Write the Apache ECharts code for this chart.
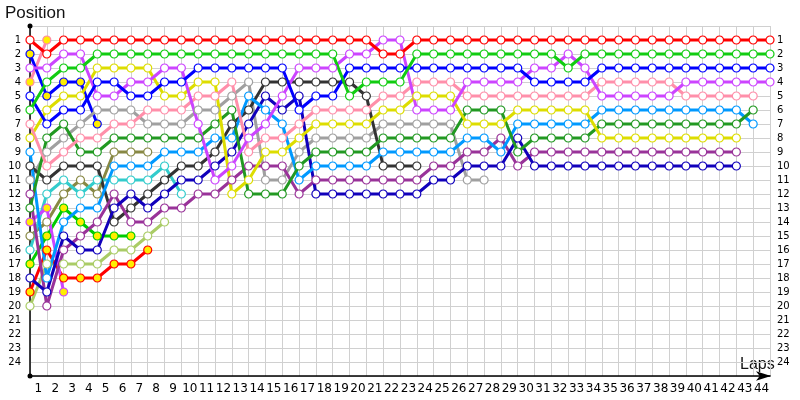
<!DOCTYPE html>
<html><head><meta charset="utf-8">
<script src="https://cdn.jsdelivr.net/npm/echarts@6/dist/echarts.min.js"></script>
<style>html,body{margin:0;padding:0;background:#fff}#c{width:800px;height:400px}</style>
</head><body><div id="c"></div>
<script>
// Lap tick labels (bands) and position tick labels
const lapLabels = ['1','2','3','4','5','6','7','8','9','10','11','12','13','14','15','16','17','18','19','20','21','22','23','24','25','26','27','28','29','30','31','32','33','34','35','36','37','38','39','40','41','42','43','44'];
const positionLabels = ['1','2','3','4','5','6','7','8','9','10','11','12','13','14','15','16','17','18','19','20','21','22','23','24'];

// Positions per lap, starting at lap 0 (grid)
const posRed = [1,2,1,1,1,1,1,1,1,1, 1,1,1,1,1,1,1,1,1,1, 1,2,2,1,1,1,1,1,1,1, 1,1,1,1,1,1,1,1,1,1, 1,1,1,1,1];
const posGreen = [6,4,3,3,2,2,2,2,2,2, 2,2,2,2,2,2,2,2,2,5, 4,4,4,2,2,2,2,2,2,2, 2,2,3,2,2,2,2,2,2,2, 2,2,2,2,2];
const posBlue = [5,7,6,6,4,4,5,5,4,4, 3,3,3,3,3,3,6,5,5,3, 3,3,3,3,3,3,3,3,3,3, 4,4,4,4,3,3,3,3,3,3, 3,3,3,3,3];
const posMagenta = [3,3,2,2,5,5,4,4,3,3, 7,11,10,8,7,5,3,3,3,2, 2,1,1,6,6,6,4,4,4,4, 3,3,2,3,5,5,5,5,5,4, 4,4,4,4,4];
const posPink = [7,10,9,8,8,7,7,6,6,6, 5,5,4,9,8,8,7,6,6,6, 6,5,5,4,4,4,5,5,5,5, 5,5,5,5,4,4,4,4,4,5, 5,5,5,5];
const posDkGreen = [13,8,7,9,9,8,8,8,8,8, 8,7,6,12,12,12,10,9,9,9, 9,8,8,8,8,8,6,6,6,9, 8,8,8,8,7,7,7,7,7,7, 7,7,7,6];
const posSky = [9,18,14,13,13,10,10,10,9,9, 9,8,8,5,6,7,11,10,10,10, 10,9,9,9,9,9,8,8,9,7, 7,7,7,7,6,6,6,6,6,6, 6,6,6,7];
const posYellow = [8,6,5,5,3,3,3,3,5,5, 4,4,12,11,9,9,8,7,7,7, 7,6,6,5,5,5,7,7,7,6, 6,6,6,6,8,8,8,8,8,8, 8,8,8];
const posPurple = [12,20,16,15,14,12,14,14,13,13, 12,12,11,10,10,10,12,11,11,11, 11,11,11,11,10,10,9,9,8,10, 9,9,9,9,9,9,9,9,9,9, 9,9,9];
const posNavy = [18,19,15,16,16,13,12,13,12,11, 11,10,9,7,5,6,5,12,12,12, 12,12,12,12,11,11,10,10,10,8, 10,10,10,10,10,10,10,10,10,10, 10,10,10];
const posGrey = [11,9,8,7,6,6,6,7,7,7, 6,6,5,4,11,11,9,8,8,8, 8,7,7,7,7,7,11,11];
const posBlack = [10,11,10,10,10,14,13,12,11,10, 10,9,7,6,4,4,4,4,4,4, 5,10,10,10];
const posOlive = [15,14,12,11,12,9,9,9];
const posCyan = [16,12,11,12,11,11,11,11,10,12];
const posLtGreen = [20,17,17,17,17,16,16,15,14];
const posGreenY = [17,15,13,14,15,15,15];
const posRedY = [19,16,18,18,18,17,17,16];
const posMagentaY = [14,13,19];
const posPinkY = [4,1];
const posBlueY = [2,5,4,4,7];

const drivers = [
  {d: posLtGreen, c: '#aacc66', f: '#fff'},
  {d: posOlive, c: '#888844', f: '#fff'},
  {d: posCyan, c: '#33cccc', f: '#fff'},
  {d: posRedY, c: '#ff0000', f: '#ffee00'},
  {d: posGreenY, c: '#00cc00', f: '#ffee00'},
  {d: posMagentaY, c: '#cc44ff', f: '#ffee00'},
  {d: posPinkY, c: '#ff88aa', f: '#ffee00'},
  {d: posBlueY, c: '#0000ff', f: '#ffee00'},
  {d: posGrey, c: '#a0a0a0', f: '#fff'},
  {d: posBlack, c: '#333333', f: '#fff'},
  {d: posPurple, c: '#993399', f: '#fff'},
  {d: posNavy, c: '#1100bb', f: '#fff'},
  {d: posSky, c: '#0099ff', f: '#fff'},
  {d: posDkGreen, c: '#229922', f: '#fff'},
  {d: posYellow, c: '#dddd00', f: '#fff'},
  {d: posPink, c: '#ff8faa', f: '#fff'},
  {d: posMagenta, c: '#cc44ff', f: '#fff'},
  {d: posBlue, c: '#0000ff', f: '#fff'},
  {d: posGreen, c: '#11cc11', f: '#fff'},
  {d: posRed, c: '#ff0000', f: '#fff'}
];

const font = 'DejaVu Sans';
const chart = echarts.init(document.getElementById('c'), null, {renderer: 'canvas'});
chart.setOption({
  animation: false,
  backgroundColor: '#fff',
  grid: {left: 30, right: 30, top: 26, bottom: 24, containLabel: false},
  xAxis: [
    {type: 'value', min: 0, max: 44, interval: 1, position: 'bottom',
     axisLabel: {show: false}, axisTick: {show: false},
     splitLine: {show: true, lineStyle: {color: '#d0d0d0', width: 1}},
     axisLine: {show: true, onZero: false, lineStyle: {color: '#000', width: 1.5}, symbol: ['none', 'arrow'], symbolSize: [7, 15], symbolOffset: [0, 1]}},
    {type: 'category', data: lapLabels, boundaryGap: true, position: 'bottom',
     axisLine: {show: false, onZero: false}, axisTick: {show: false}, splitLine: {show: false},
     axisLabel: {fontFamily: font, fontSize: 12, color: '#000', margin: 7, interval: 0}}
  ],
  yAxis: [
    {type: 'value', inverse: true, min: 0, max: 25, interval: 1, position: 'left',
     axisLine: {show: true, onZero: false, lineStyle: {color: '#000', width: 1.5}, symbol: ['circle', 'circle'], symbolSize: [5, 5]},
     axisTick: {show: false},
     axisLabel: {fontFamily: font, fontSize: 10, color: '#000', margin: 9,
       formatter: v => (v >= 1 && v <= positionLabels.length) ? positionLabels[v - 1] : ''},
     splitLine: {show: true, lineStyle: {color: '#d0d0d0', width: 1}}},
    {type: 'value', inverse: true, min: 0, max: 25, interval: 1, position: 'right',
     axisLine: {show: false, onZero: false}, axisTick: {show: false}, splitLine: {show: false},
     axisLabel: {fontFamily: font, fontSize: 10, color: '#000', margin: 7,
       formatter: v => (v >= 1 && v <= positionLabels.length) ? positionLabels[v - 1] : ''}}
  ],
  graphic: [
    {type: 'text', left: 5, top: 5, style: {text: 'Position', fontFamily: 'Liberation Sans', fontSize: 17, fill: '#111'}},
    {type: 'text', left: 740, top: 357, style: {text: 'Laps', fontFamily: 'Liberation Sans', fontSize: 16, fill: '#111'}}
  ],
  series: drivers.map(dr => ({
    type: 'line',
    xAxisIndex: 0, yAxisIndex: 0,
    data: dr.d.map((p, lap) => [lap, p]),
    symbol: 'circle', symbolSize: 8, showSymbol: true, showAllSymbol: true,
    lineStyle: {color: dr.c, width: 3},
    itemStyle: {color: dr.f, borderColor: dr.c, borderWidth: 1.2},
    emphasis: {disabled: true},
    silent: true
  }))
});
</script></body></html>
